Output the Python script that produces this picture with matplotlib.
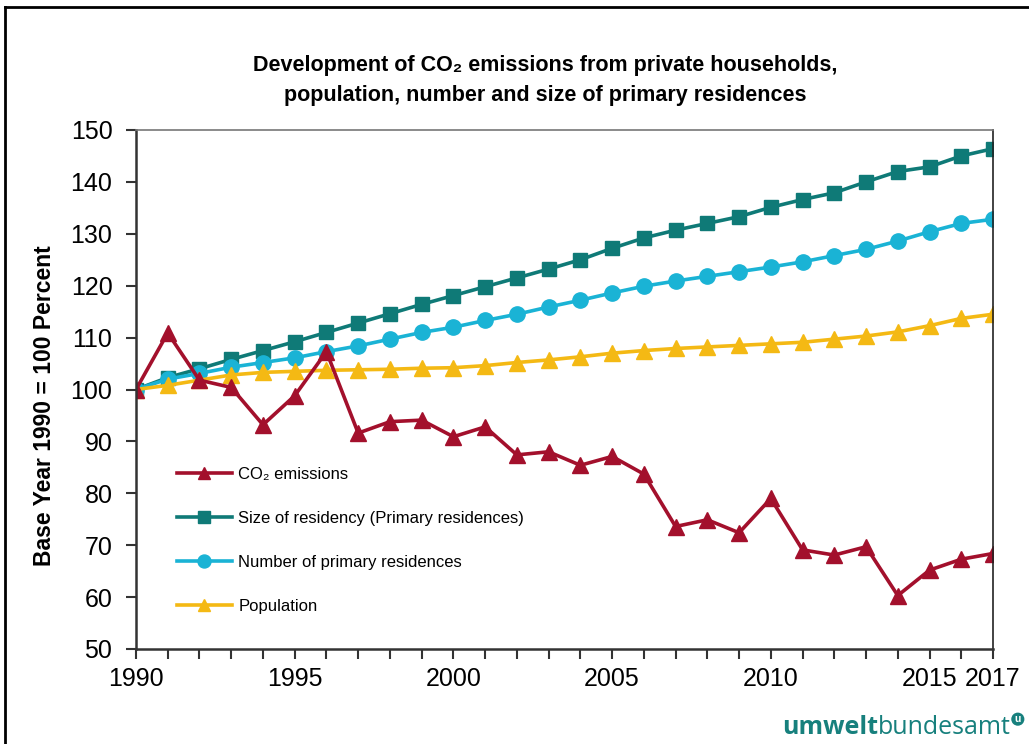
import matplotlib.pyplot as plt
from matplotlib.lines import Line2D

plt.rcParams['font.family'] = ['Liberation Sans', 'DejaVu Sans']

# Daten (Basisjahr 1990 = 100)
jahre = list(range(1990, 2018))

co2 = [100.0, 110.9, 101.8, 100.4, 93.2, 98.8, 107.3, 91.6, 93.8, 94.1,
       90.9, 92.8, 87.4, 88.0, 85.4, 87.1, 83.7, 73.6, 74.9, 72.4,
       79.0, 69.1, 68.1, 69.7, 60.3, 65.2, 67.3, 68.4]

groesse = [100.0, 102.3, 104.0, 105.8, 107.5, 109.2, 111.0, 112.8, 114.6, 116.4,
           118.1, 119.8, 121.5, 123.2, 125.0, 127.2, 129.2, 130.7, 132.0, 133.3,
           135.1, 136.6, 137.9, 140.0, 142.0, 142.9, 145.0, 146.4]

anzahl = [100.0, 102.0, 103.1, 104.3, 105.2, 106.1, 107.3, 108.4, 109.7, 111.0,
          112.0, 113.3, 114.5, 115.9, 117.2, 118.6, 119.9, 120.9, 121.8, 122.7,
          123.6, 124.6, 125.8, 127.0, 128.6, 130.4, 132.0, 132.8]

bevoelkerung = [100.0, 100.8, 101.8, 102.8, 103.3, 103.5, 103.7, 103.8, 103.9, 104.1,
                104.2, 104.6, 105.2, 105.7, 106.3, 107.0, 107.5, 107.9, 108.2, 108.5,
                108.8, 109.1, 109.7, 110.3, 111.1, 112.3, 113.7, 114.5]

x_beschriftung = {1990: '1990', 1995: '1995', 2000: '2000', 2005: '2005',
                  2010: '2010', 2015: '2015', 2017: '2017'}

rot = '#a3102c'
petrol = '#0f7a77'
hellblau = '#1ab3d5'
gelb = '#f4b914'

fig = plt.figure(figsize=(10.29, 7.44), dpi=100)
ax = fig.add_axes([136 / 1029, 1 - 649 / 744, 857 / 1029, 519 / 744])

ax.plot(jahre, co2, color=rot, lw=2.6, marker='^', ms=11, label='CO\u2082 emissions', zorder=6)
ax.plot(jahre, groesse, color=petrol, lw=2.6, marker='s', ms=10, label='Size of residency (Primary residences)', zorder=3)
ax.plot(jahre, anzahl, color=hellblau, lw=2.6, marker='o', ms=11, label='Number of primary residences', zorder=4)
ax.plot(jahre, bevoelkerung, color=gelb, lw=2.6, marker='^', ms=11, label='Population', zorder=5)

ax.set_xlim(1990, 2017)
ax.set_ylim(50, 150)
ax.set_yticks(range(50, 151, 10))
ax.set_xticks(jahre)
ax.set_xticklabels([x_beschriftung.get(j, '') for j in jahre])
ax.tick_params(axis='both', direction='out', length=7, width=1.5, labelsize=18, color='#333333')
ax.tick_params(axis='y', pad=10)
ax.tick_params(axis='x', pad=6)

for s in ['left', 'bottom']:
    ax.spines[s].set_linewidth(1.8)
    ax.spines[s].set_color('#333333')
ax.spines['top'].set_linewidth(1.2)
ax.spines['top'].set_color('#777777')
ax.spines['right'].set_linewidth(1.2)
ax.spines['right'].set_color('#222222')
for s in ax.spines.values():
    s.set_zorder(10)
    s.set_clip_on(False)

leg = ax.legend(loc='upper left', bbox_to_anchor=(0.03, 0.38), frameon=False,
                fontsize=12, handlelength=3.3, handletextpad=0.4, labelspacing=1.75,
                markerscale=0.85)

# Titel
fig.text(545 / 1029, 1 - 65 / 744, 'Development of CO\u2082 emissions from private households,',
         ha='center', va='center', fontsize=15.5, fontweight='bold',
         family=['Liberation Sans Narrow', 'Liberation Sans', 'DejaVu Sans'])
fig.text(545 / 1029, 1 - 95 / 744, 'population, number and size of primary residences',
         ha='center', va='center', fontsize=15.5, fontweight='bold',
         family=['Liberation Sans Narrow', 'Liberation Sans', 'DejaVu Sans'])

# Achsenbeschriftung
fig.text(45 / 1029, 1 - 406 / 744, 'Base Year 1990 = 100 Percent', rotation=90,
         ha='center', va='center', fontsize=16.5, fontweight='bold')

# Logo
teal = '#17807d'
t1 = fig.text(782 / 1029, 1 - 740 / 744, 'umwelt', color=teal, fontsize=18,
              fontweight='bold', family=['Open Sans', 'DejaVu Sans'], va='bottom')
t2 = plt.annotate('bundesamt', xy=(1, 0), xycoords=t1, color=teal, fontsize=18,
                  family=['Open Sans', 'DejaVu Sans'], va='bottom', ha='left')
t3 = plt.annotate('u', xy=(1, 1), xycoords=t2, xytext=(5, -3), textcoords='offset points',
                  color='white', fontsize=7.5, fontweight='bold', ha='center', va='center',
                  bbox=dict(boxstyle='circle,pad=0.15', fc=teal, ec='none'))

# Rahmen
fig.add_artist(Line2D([5 / 1029, 5 / 1029], [0, 1 - 7 / 744], color='black', lw=2))
fig.add_artist(Line2D([5 / 1029, 1], [1 - 7 / 744, 1 - 7 / 744], color='black', lw=2))

plt.savefig('out.png', dpi=100)
